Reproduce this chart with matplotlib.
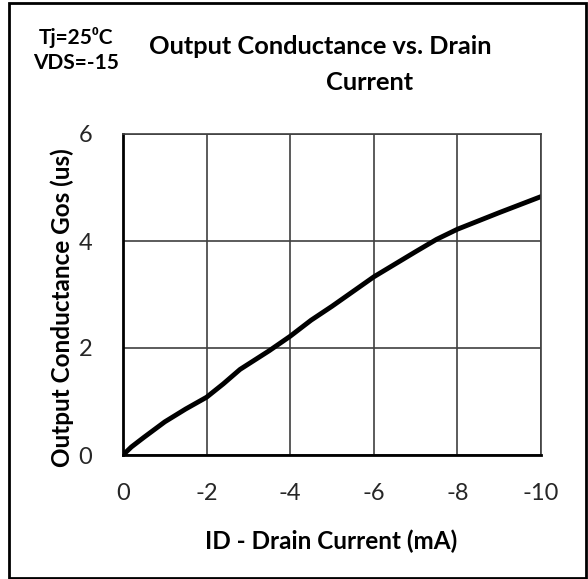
import matplotlib
matplotlib.use('Agg')
import matplotlib.pyplot as plt
from matplotlib.patches import Rectangle

plt.rcParams['font.family'] = ['Lato', 'DejaVu Sans']

# drain current (mA) and output conductance (uS)
drain_current = [0, -0.2, -0.5, -1, -1.5, -2, -2.4, -2.8, -3.5, -4, -4.5,
                 -5, -6, -7, -7.5, -8, -9, -10]
gos = [0, 0.15, 0.33, 0.62, 0.86, 1.08, 1.33, 1.6, 1.95, 2.22, 2.52,
       2.78, 3.33, 3.8, 4.03, 4.22, 4.53, 4.83]

x_ticks = [0, -2, -4, -6, -8, -10]
y_ticks = [0, 2, 4, 6]

W, H = 588, 579
fig = plt.figure(figsize=(W / 100, H / 100), dpi=100)
ax = fig.add_axes([123 / W, 1 - 455 / H, (541 - 123) / W, (455 - 134) / H])

ax.plot(drain_current, gos, color='black', lw=3.5, solid_capstyle='round',
        solid_joinstyle='round')
ax.set_xlim(0, -10)
ax.set_ylim(0, 6)
ax.set_xticks(x_ticks)
ax.set_xticklabels([str(v) for v in x_ticks])
ax.set_yticks(y_ticks)
ax.grid(True, color='#404040', lw=1.2)
ax.tick_params(length=0, labelsize=17, colors='#262626')
ax.tick_params(axis='x', pad=20)
ax.tick_params(axis='y', pad=22)
for s in ax.spines.values():
    s.set_color('#404040')
    s.set_linewidth(1.2)
ax.spines['bottom'].set_linewidth(2)
ax.spines['bottom'].set_color('black')
ax.spines['left'].set_linewidth(2)
ax.spines['left'].set_color('black')

fig.text(331 / W, 1 - 541 / H, 'ID - Drain Current (mA)', fontsize=17.5,
         fontweight='bold', ha='center', va='center')
fig.text(62 / W, 1 - 308 / H, 'Output Conductance Gos (us)', rotation=90,
         fontsize=17.5, fontweight='bold', ha='center', va='center')

fig.text(320 / W, 1 - 47 / H, 'Output Conductance vs. Drain', fontsize=18.3,
         fontweight='bold', ha='center', va='center')
fig.text(370 / W, 1 - 83 / H, 'Current', fontsize=18.3,
         fontweight='bold', ha='center', va='center')
fig.text(76 / W, 1 - 37 / H, 'Tj=25\u2070C', fontsize=15,
         fontweight='bold', ha='center', va='center')
fig.text(76 / W, 1 - 63 / H, 'VDS=-15', fontsize=15,
         fontweight='bold', ha='center', va='center')

fig.patches.append(Rectangle((9 / W, 1 - 578 / H), (586 - 9) / W, (578 - 3) / H,
                             transform=fig.transFigure, fill=False,
                             edgecolor='black', lw=2))

fig.savefig('out.png', dpi=100)
